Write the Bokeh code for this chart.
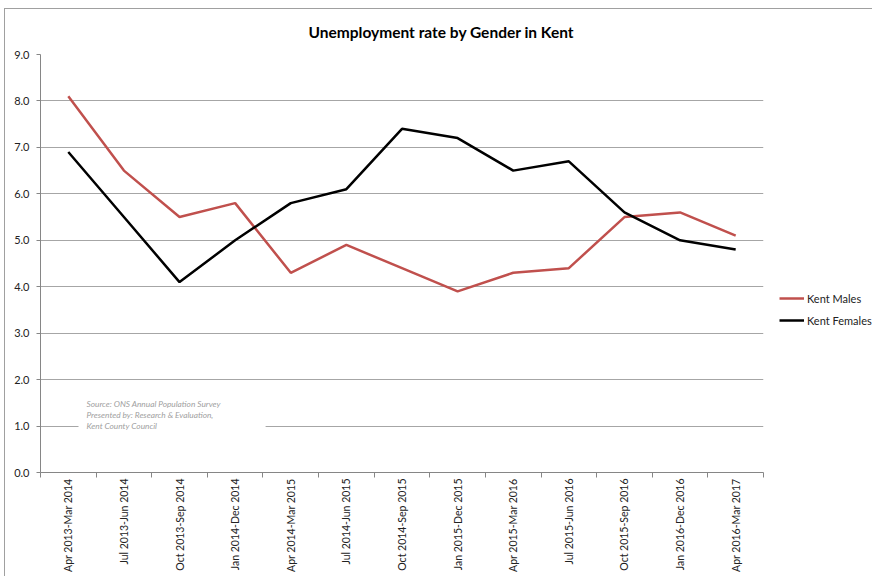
from bokeh.plotting import figure
from bokeh.models import (Range1d, FixedTicker, NumeralTickFormatter, Legend, LegendItem, Label)
from bokeh.embed import file_html
from bokeh.resources import INLINE
import math

categories = ["Apr 2013-Mar 2014", "Jul 2013-Jun 2014", "Oct 2013-Sep 2014", "Jan 2014-Dec 2014",
              "Apr 2014-Mar 2015", "Jul 2014-Jun 2015", "Oct 2014-Sep 2015", "Jan 2015-Dec 2015",
              "Apr 2015-Mar 2016", "Jul 2015-Jun 2016", "Oct 2015-Sep 2016", "Jan 2016-Dec 2016",
              "Apr 2016-Mar 2017"]
males = [8.1, 6.5, 5.5, 5.8, 4.3, 4.9, 4.4, 3.9, 4.3, 4.4, 5.5, 5.6, 5.1]
females = [6.9, 5.5, 4.1, 5.0, 5.8, 6.1, 7.4, 7.2, 6.5, 6.7, 5.6, 5.0, 4.8]
y_ticks = [0, 1, 2, 3, 4, 5, 6, 7, 8, 9]
title_text = "Unemployment rate by Gender in Kent"
source_text = "Source: ONS Annual Population Survey\nPresented by: Research & Evaluation,\nKent County Council"

FONT = "Lato"
xs = list(range(1, len(categories) + 1))

p = figure(frame_width=723, frame_height=418, output_backend="svg", toolbar_location=None,
           x_range=Range1d(0.5, len(categories) + 0.5), y_range=Range1d(0, 9),
           min_border_left=35, min_border_right=110, min_border_top=45, min_border_bottom=104,
           margin=(8, 0, 0, 4),
           styles={"border-left": "1px solid #a0a0a0", "border-top": "1px solid #a0a0a0"})
p.outline_line_color = None
p.background_fill_color = "white"
p.border_fill_color = "white"

p.title.text = title_text
p.title.text_font = FONT
p.title.text_font_size = "15.5px"
p.title.text_font_style = "bold"
p.title.text_color = "black"
p.title.align = "left"
p.title.offset = 268
p.title.vertical_align = "top"
p.title.standoff = 24

# x axis
p.xaxis.ticker = FixedTicker(ticks=xs, minor_ticks=[x - 0.5 for x in xs] + [xs[-1] + 0.5])
p.xaxis.major_label_overrides = {x: c for x, c in zip(xs, categories)}
p.xaxis.major_label_orientation = math.pi / 2
p.xaxis.major_tick_out = 0
p.xaxis.major_tick_in = 0
p.xaxis.minor_tick_out = 5
p.xaxis.minor_tick_in = 0
p.xaxis.minor_tick_line_color = "#868686"
p.xaxis.axis_line_color = "#868686"
p.xaxis.major_label_text_font = FONT
p.xaxis.major_label_text_font_size = "10.5px"
p.xaxis.major_label_text_color = "#222222"
p.xaxis.major_label_standoff = 1

# y axis
p.yaxis.ticker = FixedTicker(ticks=y_ticks)
p.yaxis.formatter = NumeralTickFormatter(format="0.0")
p.yaxis.major_tick_out = 4
p.yaxis.major_tick_in = 0
p.yaxis.minor_tick_line_color = None
p.yaxis.major_tick_line_color = "#868686"
p.yaxis.axis_line_color = "#868686"
p.yaxis.major_label_text_font = FONT
p.yaxis.major_label_text_font_size = "11px"
p.yaxis.major_label_text_color = "#222222"
p.yaxis.major_label_standoff = 7

p.xgrid.grid_line_color = None
p.ygrid.grid_line_color = "#a6a6a6"
p.ygrid.grid_line_width = 1

src = Label(x=38, y=36, x_units="screen", y_units="screen", text=source_text,
            text_font=FONT, text_font_size="8.3px", text_font_style="italic",
            text_color="#a0a0a0", text_baseline="bottom", text_line_height=1.12,
            background_fill_color="white",
            padding=dict(left=8, right=45, top=5, bottom=5))
p.add_layout(src)

r_m = p.line(xs, males, line_color="#c0504d", line_width=2.5)
r_f = p.line(xs, females, line_color="black", line_width=2.5)

legend = Legend(items=[LegendItem(label="Kent Males", renderers=[r_m]),
                       LegendItem(label="Kent Females", renderers=[r_f])],
                location=(16, 144), margin=0, padding=0, spacing=6,
                glyph_width=25, glyph_height=16, label_standoff=3,
                label_text_font=FONT, label_text_font_size="11px", label_text_color="#222222",
                border_line_color=None, background_fill_alpha=0)
p.add_layout(legend, "right")

open("out.html", "w").write(file_html(p, INLINE))
